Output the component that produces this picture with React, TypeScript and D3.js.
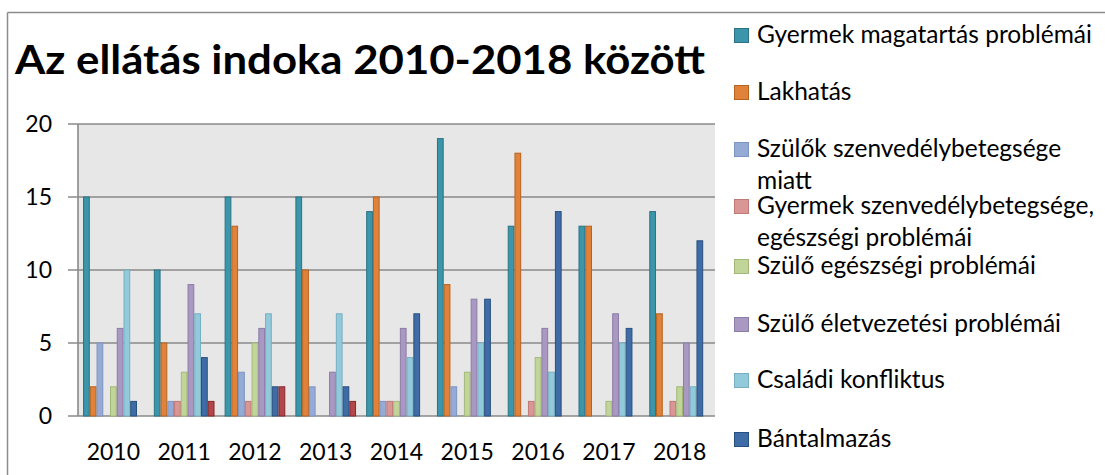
import React from "react";
import * as d3 from "d3";

const years = ["2010", "2011", "2012", "2013", "2014", "2015", "2016", "2017", "2018"];

const seriesNames = [
  "Gyermek magatartás problémái",
  "Lakhatás",
  "Szülők szenvedélybetegsége miatt",
  "Gyermek szenvedélybetegsége, egészségi problémái",
  "Szülő egészségi problémái",
  "Szülő életvezetési problémái",
  "Családi konfliktus",
  "Bántalmazás",
  "Egyéb",
];

const gyermekMagatartas = [15, 10, 15, 15, 14, 19, 13, 13, 14];
const lakhatas = [2, 5, 13, 10, 15, 9, 18, 13, 7];
const szulokSzenvedely = [5, 1, 3, 2, 1, 2, 0, 0, 0];
const gyermekSzenvedely = [0, 1, 1, 0, 1, 0, 1, 0, 1];
const szuloEgeszseg = [2, 3, 5, 0, 1, 3, 4, 1, 2];
const szuloEletvezetes = [6, 9, 6, 3, 6, 8, 6, 7, 5];
const csaladiKonfliktus = [10, 7, 7, 7, 4, 5, 3, 5, 2];
const bantalmazas = [1, 4, 2, 2, 7, 8, 14, 6, 12];
const egyeb = [0, 1, 2, 1, 0, 0, 0, 0, 0];

const seriesValues = [
  gyermekMagatartas,
  lakhatas,
  szulokSzenvedely,
  gyermekSzenvedely,
  szuloEgeszseg,
  szuloEletvezetes,
  csaladiKonfliktus,
  bantalmazas,
  egyeb,
];

const fills = ["#3b96ab", "#e0823a", "#95abd6", "#d99694", "#c0d597", "#a898c2", "#93cadb", "#3f6ca6", "#b3464a"];
const strokes = ["#2b7284", "#b8621f", "#7d95c2", "#c07977", "#a2b97a", "#8c7ca8", "#76afc1", "#27507f", "#84272b"];

const yTicks = [0, 5, 10, 15, 20];

const legendLines: string[][] = [
  ["Gyermek magatartás problémái"],
  ["Lakhatás"],
  ["Szülők szenvedélybetegsége", "miatt"],
  ["Gyermek szenvedélybetegsége,", "egészségi problémái"],
  ["Szülő egészségi problémái"],
  ["Szülő életvezetési problémái"],
  ["Családi konfliktus"],
  ["Bántalmazás"],
];
// layout: baseline of first line for each legend entry, and second line offset
const legendBaselines = [43, 100, 157, 214, 274, 332, 388, 447];
const secondLineGap = 32;

export default function App() {
  const W = 1105;
  const H = 475;
  const plotLeft = 78;
  const plotRight = 715;
  const plotTop = 124;
  const plotBottom = 416;

  const y = d3.scaleLinear().domain([0, 20]).range([plotBottom, plotTop]);
  const x0 = d3
    .scaleBand<string>()
    .domain(years)
    .range([plotLeft, plotRight])
    .paddingInner(1.5 / 10.5)
    .paddingOuter(0.75 / 10.5);
  const x1 = d3
    .scaleBand<number>()
    .domain(d3.range(seriesValues.length))
    .range([0, x0.bandwidth()]);

  const font = "Lato, 'Open Sans', sans-serif";
  const gridColor = "#8a8a8a";

  return (
    <svg
      width={W}
      height={H}
      style={{ position: "absolute", left: 0, top: 0, background: "#fff" }}
      fontFamily={font}
    >
      {/* outer chart border */}
      <line x1={7.5} y1={12.5} x2={W} y2={12.5} stroke="#8c8c8c" strokeWidth={1.5} />
      <line x1={7.5} y1={12.5} x2={7.5} y2={H} stroke="#8c8c8c" strokeWidth={1.5} />

      {/* title */}
      <text x={15} y={74} fontSize={41} fontWeight={700} fill="#000" textLength={690} lengthAdjust="spacingAndGlyphs">
        Az ellátás indoka 2010-2018 között
      </text>

      {/* plot background */}
      <rect x={plotLeft} y={plotTop} width={plotRight - plotLeft} height={plotBottom - plotTop} fill="#e7e7e7" />

      {/* gridlines and y ticks */}
      {yTicks.map((t) => (
        <g key={t}>
          <line x1={plotLeft - 10} x2={plotRight} y1={y(t)} y2={y(t)} stroke={gridColor} strokeWidth={1.6} />
          <text x={52} y={y(t)} dy="0.36em" fontSize={23} textAnchor="end" fill="#000">
            {t}
          </text>
        </g>
      ))}
      <line x1={plotLeft} x2={plotLeft} y1={plotTop} y2={plotBottom} stroke={gridColor} strokeWidth={1.6} />

      {/* bars */}
      {years.map((yr, i) => (
        <g key={yr} transform={`translate(${x0(yr)},0)`}>
          {seriesValues.map((vals, s) =>
            vals[i] > 0 ? (
              <rect
                key={s}
                x={(x1(s) as number) + 0.5}
                y={y(vals[i])}
                width={x1.bandwidth() - 1}
                height={y(0) - y(vals[i])}
                fill={fills[s]}
                stroke={strokes[s]}
                strokeWidth={1}
              />
            ) : null
          )}
        </g>
      ))}

      {/* x labels */}
      {years.map((yr) => (
        <text
          key={yr}
          x={(x0(yr) as number) + x0.bandwidth() / 2}
          y={460}
          fontSize={23}
          textAnchor="middle"
          fill="#000"
        >
          {yr}
        </text>
      ))}

      {/* legend */}
      {legendLines.map((lines, i) => (
        <g key={i}>
          <rect
            x={734.5}
            y={legendBaselines[i] - 14.5}
            width={14}
            height={14}
            fill={fills[i]}
            stroke={strokes[i]}
            strokeWidth={1}
          />
          {lines.map((ln, j) => (
            <text key={j} x={757} y={legendBaselines[i] + j * secondLineGap} fontSize={24.5} fill="#000">
              {ln}
            </text>
          ))}
        </g>
      ))}
    </svg>
  );
}
